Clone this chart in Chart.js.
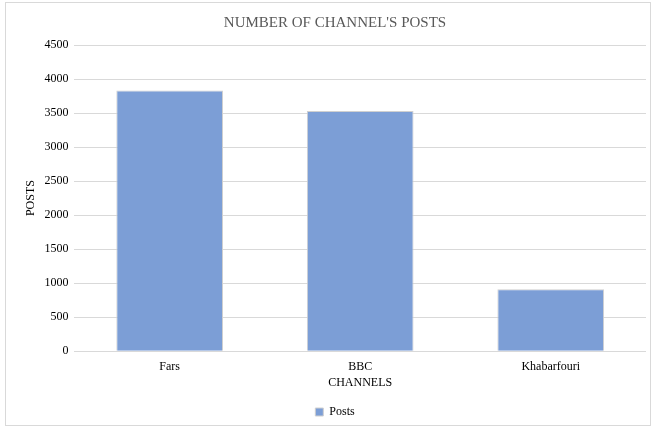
<!DOCTYPE html>
<html>
<head>
<meta charset="utf-8">
<script src="https://cdn.jsdelivr.net/npm/chart.js@4"></script>
<style>
  body { margin: 0; background: #fff; }
  #wrap { position: absolute; left: 5px; top: 2px; width: 644px; height: 422px; border: 1px solid #d9d9d9; }
</style>
</head>
<body>
<div id="wrap"><canvas id="grafico"></canvas></div>
<script>
// datos
const canales = ["Fars", "BBC", "Khabarfouri"];
const publicaciones = [3830, 3530, 910];
const maxY = 4500;
const pasoY = 500;

Chart.defaults.font.family = "'Liberation Serif', 'Times New Roman', serif";
Chart.defaults.color = "#404040";

new Chart(document.getElementById("grafico"), {
    type: "bar",
    data: {
        labels: canales,
        datasets: [{
            label: "Posts",
            data: publicaciones,
            backgroundColor: "rgb(124, 158, 214)",
            borderColor: "#d0d0d0",
            borderWidth: 1,
            barPercentage: 0.56,
            categoryPercentage: 1
        }]
    },
    options: {
        responsive: true,
        maintainAspectRatio: false,
        animation: false,
        layout: { padding: { left: 18, right: 4, top: 4, bottom: -3 } },
        plugins: {
            title: {
                display: true,
                text: "NUMBER OF CHANNEL'S POSTS",
                color: "#595959",
                font: { size: 15, weight: "normal" },
                padding: { top: 7, bottom: 13 }
            },
            legend: {
                position: "bottom",
                labels: { boxWidth: 8, boxHeight: 8, color: "#000", font: { size: 12 }, padding: 3 }
            },
            tooltip: { enabled: false }
        },
        scales: {
            x: {
                grid: { display: false },
                border: { display: false },
                ticks: { color: "#000", font: { size: 12 }, padding: 0 },
                title: { display: true, text: "CHANNELS", color: "#000", font: { size: 12 }, padding: { top: 2, bottom: 13 } }
            },
            y: {
                min: 0,
                max: maxY,
                ticks: { stepSize: pasoY, color: "#000", font: { size: 12 }, padding: 6,
                    callback: v => String(v) },
                grid: { color: "#d9d9d9", drawTicks: false },
                border: { display: false },
                title: { display: true, text: "POSTS", color: "#000", font: { size: 12 }, padding: 0 }
            }
        }
    }
});
</script>
</body>
</html>
